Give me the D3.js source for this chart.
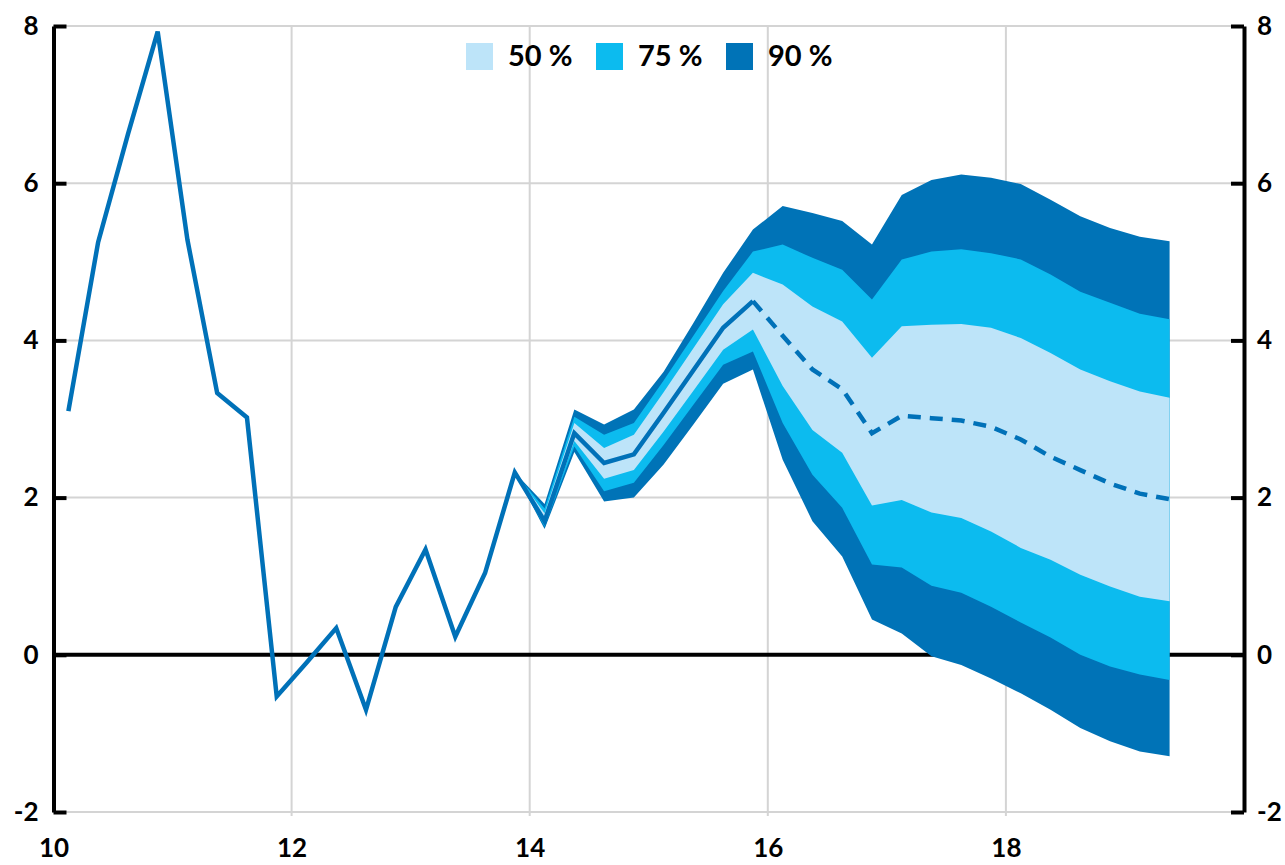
<!DOCTYPE html>
<html><head><meta charset="utf-8">
<script src="https://cdn.jsdelivr.net/npm/d3@7"></script>
<style>
body{margin:0;background:#fff;}
svg text{font-family:Lato,'Open Sans',sans-serif;font-weight:700;fill:#000;}
</style>
</head><body>
<svg id="chart" width="1285" height="865"></svg>
<script>
// ---- data ----
const xTicks = [10, 12, 14, 16, 18];
const yTicks = [-2, 0, 2, 4, 6, 8];
const firstYear = 10;           // first observation: quarter 1 of year 10
// quarterly history (Q1 of year 10 ... Q4 of year 13)
const history = [3.1, 5.25, 6.62, 7.93, 5.28, 3.33, 3.02, -0.53, -0.1, 0.34, -0.7, 0.61, 1.34, 0.23, 1.04, 2.32];
const fanStart = 15;            // fan begins at the last history quarter
const solidUntil = 23;          // median drawn solid through this quarter, dashed afterwards
const upper90 = [2.32, 1.92, 3.12, 2.93, 3.12, 3.60, 4.22, 4.86, 5.41, 5.71, 5.62, 5.52, 5.22, 5.85, 6.04, 6.11, 6.07, 5.99, 5.79, 5.58, 5.43, 5.32, 5.26];
const upper75 = [2.32, 1.86, 3.03, 2.80, 2.95, 3.49, 4.06, 4.63, 5.13, 5.22, 5.05, 4.90, 4.52, 5.03, 5.13, 5.16, 5.11, 5.03, 4.84, 4.62, 4.48, 4.34, 4.27];
const upper50 = [2.32, 1.80, 2.95, 2.63, 2.80, 3.34, 3.90, 4.46, 4.86, 4.71, 4.43, 4.24, 3.78, 4.18, 4.20, 4.21, 4.16, 4.03, 3.84, 3.63, 3.48, 3.35, 3.27];
const median  = [2.32, 1.70, 2.82, 2.44, 2.55, 3.08, 3.62, 4.16, 4.50, 4.06, 3.63, 3.38, 2.82, 3.04, 3.01, 2.98, 2.90, 2.74, 2.52, 2.35, 2.18, 2.05, 1.98];
const lower50 = [2.32, 1.66, 2.72, 2.24, 2.35, 2.84, 3.36, 3.88, 4.14, 3.42, 2.86, 2.57, 1.90, 1.97, 1.81, 1.74, 1.57, 1.36, 1.21, 1.02, 0.87, 0.74, 0.68];
const lower75 = [2.32, 1.63, 2.65, 2.08, 2.19, 2.67, 3.18, 3.69, 3.86, 2.95, 2.29, 1.87, 1.15, 1.11, 0.88, 0.79, 0.61, 0.41, 0.22, 0.00, -0.15, -0.25, -0.32];
const lower90 = [2.32, 1.60, 2.58, 1.95, 2.00, 2.42, 2.93, 3.45, 3.63, 2.48, 1.70, 1.25, 0.45, 0.27, -0.02, -0.13, -0.30, -0.49, -0.70, -0.93, -1.10, -1.23, -1.29];
const legendLabels = ["50 %", "75 %", "90 %"];
const bandColors = {"50 %": "#bde4f9", "75 %": "#0cbbef", "90 %": "#0073b7"};
const lineColor = "#0071b8";

// ---- scales ----
const svg = d3.select("#chart");
const x = d3.scaleLinear().domain([10, 20]).range([53.5, 1244]);
const y = d3.scaleLinear().domain([-2, 8]).range([812, 26]);
const tOf = i => firstYear + (i + 0.5) / 4;
const fmt = d => String(d);

// ---- gridlines ----
const grid = svg.append("g");
grid.selectAll("line.h").data(yTicks.filter(v => v !== 0)).join("line")
  .attr("x1", x(10)).attr("x2", x(20)).attr("y1", d => y(d)).attr("y2", d => y(d))
  .attr("stroke", "#d4d4d4").attr("stroke-width", 2);
grid.selectAll("line.v").data(xTicks.filter(v => v !== 10)).join("line")
  .attr("x1", d => x(d)).attr("x2", d => x(d)).attr("y1", y(8)).attr("y2", y(-2) + 4)
  .attr("stroke", "#d4d4d4").attr("stroke-width", 2);

// zero line
svg.append("line").attr("x1", x(10)).attr("x2", x(20)).attr("y1", y(0)).attr("y2", y(0))
  .attr("stroke", "#000").attr("stroke-width", 4);

// ---- fan ----
const fan = upper90.map((v, k) => ({
  t: tOf(fanStart + k), u90: v, u75: upper75[k], u50: upper50[k], m: median[k],
  l50: lower50[k], l75: lower75[k], l90: lower90[k]
}));
const bands = [["90 %", "l90", "u90"], ["75 %", "l75", "u75"], ["50 %", "l50", "u50"]];
bands.forEach(([name, lo, hi]) => {
  const area = d3.area().x(d => x(d.t)).y0(d => y(d[lo])).y1(d => y(d[hi]));
  svg.append("path").datum(fan).attr("d", area).attr("fill", bandColors[name]);
});

// ---- lines ----
const histPts = history.map((v, i) => ({t: tOf(i), v}));
const medPts = median.map((v, k) => ({t: tOf(fanStart + k), v, i: fanStart + k}));
const solidPts = histPts.concat(medPts.filter(d => d.i > fanStart && d.i <= solidUntil));
const dashPts = medPts.filter(d => d.i >= solidUntil);
const line = d3.line().x(d => x(d.t)).y(d => y(d.v));
svg.append("path").datum(solidPts).attr("d", line).attr("fill", "none")
  .attr("stroke", lineColor).attr("stroke-width", 4.5).attr("stroke-linejoin", "miter");
svg.append("path").datum(dashPts).attr("d", line).attr("fill", "none")
  .attr("stroke", lineColor).attr("stroke-width", 4.5).attr("stroke-dasharray", "13,9");

// ---- axes ----
const leftAxis = svg.append("g").attr("transform", `translate(${x(10)},0)`)
  .call(d3.axisLeft(y).tickValues(yTicks).tickSizeInner(-13).tickSizeOuter(0).tickPadding(15).tickFormat(fmt));
const rightAxis = svg.append("g").attr("transform", `translate(${x(20)},0)`)
  .call(d3.axisRight(y).tickValues(yTicks).tickSizeInner(-13).tickSizeOuter(0).tickPadding(13).tickFormat(fmt));
[leftAxis, rightAxis].forEach(g => {
  g.select(".domain").attr("stroke", "#000").attr("stroke-width", 4);
  g.selectAll(".tick line").attr("stroke", "#000").attr("stroke-width", 4);
  g.selectAll(".tick text").style("font-size", "26px");
  g.attr("font-family", null).attr("font-size", null);
});

const bottomAxis = svg.append("g").attr("transform", `translate(0,${y(-2)})`)
  .call(d3.axisBottom(x).tickValues(xTicks).tickSize(0).tickPadding(27).tickFormat(fmt));
bottomAxis.select(".domain").remove();
bottomAxis.attr("font-family", null).attr("font-size", null);
bottomAxis.selectAll(".tick text").style("font-size", "26px");

// ---- legend ----
const legend = svg.append("g");
const legendX = [466, 596, 726];
legendLabels.forEach((lab, i) => {
  const g = legend.append("g").attr("transform", `translate(${legendX[i]},43)`);
  g.append("rect").attr("width", 27).attr("height", 27).attr("fill", bandColors[lab]);
  g.append("text").attr("x", 42).attr("y", 23).style("font-size", "29px").text(lab);
});
</script>
</body></html>
